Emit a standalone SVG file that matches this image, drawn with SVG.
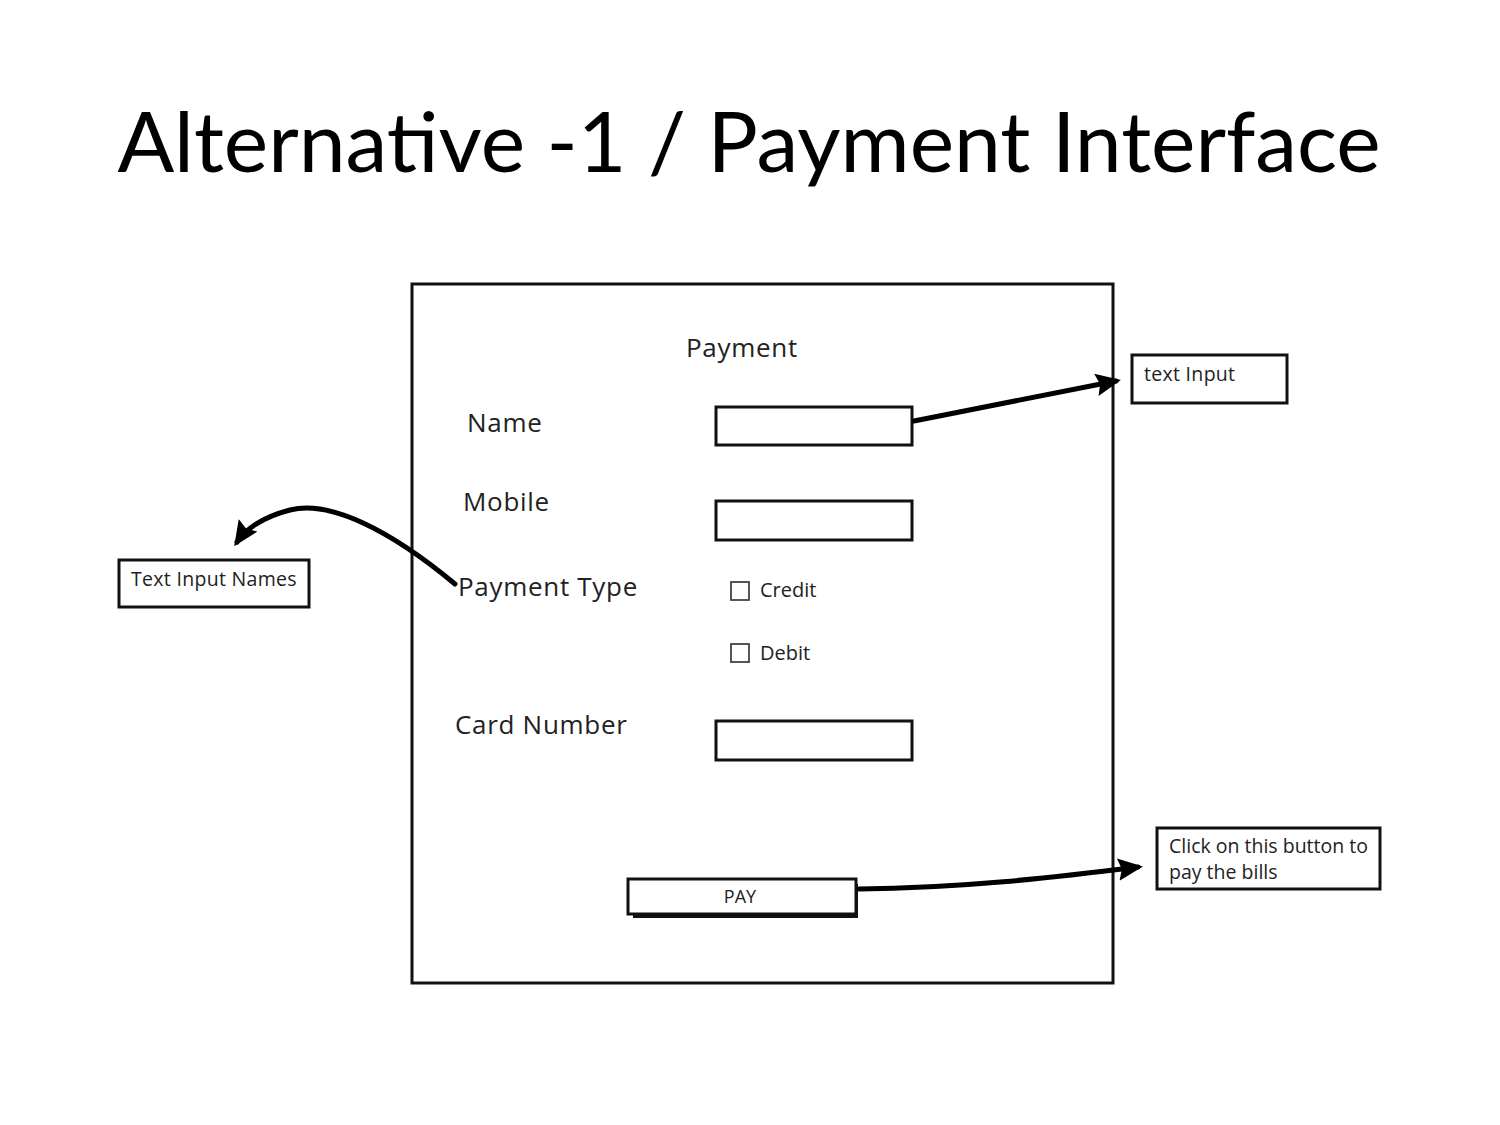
<svg xmlns="http://www.w3.org/2000/svg" width="1500" height="1125" viewBox="0 0 1500 1125">
<style>
.box{fill:#fff;stroke:#111;stroke-width:3}
.lbl{font-family:"Open Sans","Liberation Sans",sans-serif;fill:#222}
.f24{font-size:26px;letter-spacing:0.7px}
.f18{font-size:19.5px;letter-spacing:0.3px}
.tight{letter-spacing:0}
.conn{fill:none;stroke:#000;stroke-width:5;stroke-linecap:round}
.chk{fill:#fff;stroke:#444;stroke-width:1.8}
</style>
<defs>
<marker id="ah" viewBox="0 0 10 10" refX="8" refY="5" markerWidth="5" markerHeight="5" orient="auto" markerUnits="strokeWidth">
<path d="M0,0.5 L10,5 L0,9.5 L1.5,5 z" fill="#000"/>
</marker>
</defs>
<rect width="1500" height="1125" fill="#fff"/>
<text x="749" y="172" text-anchor="middle" font-family="Lato,'Open Sans',sans-serif" font-size="84" fill="#000">Alternative -1 / Payment Interface</text>

<g id="frame">
<rect x="412" y="284" width="701" height="699" class="box"/>
<text x="686" y="357" class="lbl f24">Payment</text>
</g>
<g id="name-label"><text x="467" y="432" class="lbl f24">Name</text></g>
<g id="mobile-label"><text x="463" y="511" class="lbl f24">Mobile</text></g>
<g id="ptype-label"><text x="458" y="596" class="lbl f24">Payment Type</text></g>
<g id="card-label"><text x="455" y="734" class="lbl f24">Card Number</text></g>
<g id="name-input"><rect x="716" y="407" width="196" height="38" class="box"/></g>
<g id="mobile-input"><rect x="716" y="501" width="196" height="39" class="box"/></g>
<g id="card-input"><rect x="716" y="721" width="196" height="39" class="box"/></g>
<g id="credit"><rect x="731" y="582" width="18" height="18" class="chk"/><text x="760" y="597" class="lbl" font-size="20">Credit</text></g>
<g id="debit"><rect x="731" y="644" width="18" height="18" class="chk"/><text x="760" y="660" class="lbl" font-size="20">Debit</text></g>
<g id="pay-button">
<rect x="633" y="884" width="225" height="34" fill="#111"/>
<rect x="628" y="879" width="228" height="35" class="box"/>
<text x="740" y="903" text-anchor="middle" class="lbl" font-size="18">PAY</text>
</g>
<g id="text-input-note">
<rect x="1132" y="355" width="155" height="48" class="box"/>
<text x="1144" y="381" class="lbl f18">text Input</text>
</g>
<g id="names-note">
<rect x="119" y="560" width="190" height="47" class="box"/>
<text x="131" y="586" class="lbl f18">Text Input Names</text>
</g>
<g id="pay-note">
<rect x="1157" y="828" width="223" height="61" class="box"/>
<text x="1169" y="853" class="lbl f18 tight">Click on this button to</text>
<text x="1169" y="879" class="lbl f18 tight">pay the bills</text>
</g>
<g id="connectors">
<path d="M914,421 L1116,381" class="conn" marker-end="url(#ah)"/>
<path d="M455,584 C390,530 330,500 290,510 C262,517 245,530 237,542" class="conn" marker-end="url(#ah)"/>
<path d="M859,889 C960,888 1050,878 1138,867" class="conn" marker-end="url(#ah)"/>
</g>
</svg>
